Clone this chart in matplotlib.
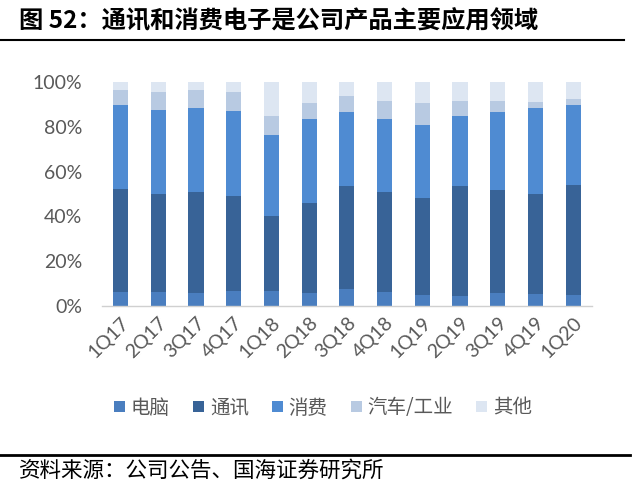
import matplotlib
matplotlib.use("Agg")
import matplotlib.pyplot as plt
import numpy as np
from matplotlib.lines import Line2D

quarters = ["1Q17", "2Q17", "3Q17", "4Q17", "1Q18", "2Q18", "3Q18",
            "4Q18", "1Q19", "2Q19", "3Q19", "4Q19", "1Q20"]
series_names = ["电脑", "通讯", "消费", "汽车/工业", "其他"]
pc = [6.4, 6.1, 6.0, 6.7, 6.7, 6.0, 7.6, 6.4, 5.1, 4.6, 5.8, 5.5, 5.1]
comm = [45.8, 43.7, 45.0, 42.3, 33.7, 40.1, 46.1, 44.4, 42.9, 48.8, 45.8, 44.3, 49.0]
consumer = [37.4, 37.5, 37.4, 37.9, 35.8, 37.2, 32.9, 32.7, 32.9, 31.2, 35.0, 38.4, 35.5]
auto = [6.7, 8.1, 7.9, 8.6, 8.4, 7.5, 7.3, 7.9, 9.7, 6.8, 4.8, 3.0, 2.9]
other = [3.7, 4.6, 3.7, 4.5, 15.4, 9.2, 6.1, 8.6, 9.4, 8.6, 8.6, 8.8, 7.5]
y_ticks = [0, 20, 40, 60, 80, 100]
title = "图 52：通讯和消费电子是公司产品主要应用领域"
source = "资料来源：公司公告、国海证券研究所"

colors = ["#4a7ebf", "#386397", "#4f8bd2", "#b8cae2", "#dde6f2"]
cjk = ["Noto Sans CJK SC", "DejaVu Sans"]
gray = "#595959"

fig = plt.figure(figsize=(6.4, 5.0), dpi=100)
ax = fig.add_axes([0.159, 0.388, 0.766, 0.448])

x = np.arange(len(quarters))
bottom = np.zeros(len(quarters))
for name, vals, c in zip(series_names, [pc, comm, consumer, auto, other], colors):
    v = np.array(vals) / 100.0
    ax.bar(x, v, bottom=bottom, width=0.4, color=c, label=name)
    bottom += v

ax.set_xlim(-0.5, len(quarters) - 0.5)
ax.set_ylim(0, 1.0)
ax.set_yticks([t / 100 for t in y_ticks])
ax.set_yticklabels([f"{t}%" for t in y_ticks], fontfamily="Lato", fontsize=14, color=gray)
ax.set_xticks(x)
ax.set_xticklabels(quarters, rotation=45, ha="right", rotation_mode="anchor",
                   fontfamily="Lato", fontsize=14, color=gray)
ax.tick_params(axis="both", length=0)
ax.tick_params(axis="y", pad=14)
ax.tick_params(axis="x", pad=6)
for s in ["top", "right", "left"]:
    ax.spines[s].set_visible(False)
ax.spines["bottom"].set_color("#d0d0d0")
ax.spines["bottom"].set_linewidth(1.0)

leg = fig.legend(loc="center", bbox_to_anchor=(0.505, 0.184), ncol=5, frameon=False,
                 prop={"family": cjk, "size": 14}, handlelength=0.55, handleheight=0.55,
                 handletextpad=0.3, columnspacing=1.2, labelcolor=gray)

fig.text(0.03, 0.958, title, fontsize=17.5, fontweight="bold", family=cjk,
         ha="left", va="center", color="black")
fig.add_artist(Line2D([0.0, 0.975], [0.92, 0.92], color="black", lw=1.5,
                      transform=fig.transFigure))
fig.add_artist(Line2D([0.0, 0.985], [0.09, 0.09], color="black", lw=2.0,
                      transform=fig.transFigure))
fig.text(0.03, 0.058, source, fontsize=15.5, family=cjk, ha="left", va="center",
         color="black")

fig.savefig("out.png", dpi=100)
